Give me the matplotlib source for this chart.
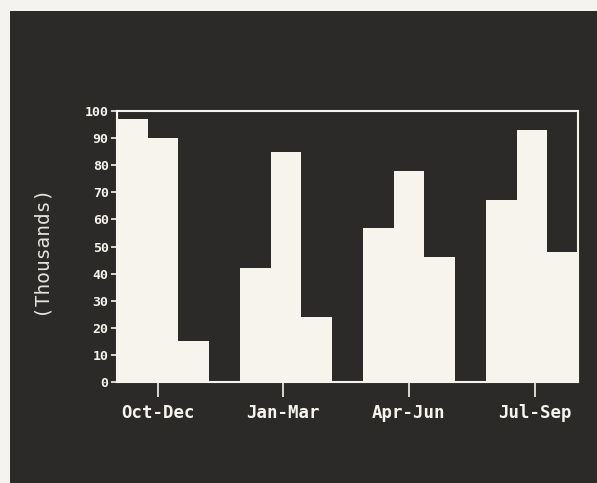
import matplotlib
matplotlib.use('Agg')
import matplotlib.pyplot as plt

# 数据
quarters = ['Oct-Dec', 'Jan-Mar', 'Apr-Jun', 'Jul-Sep']
values = [
    [97, 90, 15],
    [42, 85, 24],
    [57, 78, 46],
    [67, 93, 48],
]
y_ticks = [0, 10, 20, 30, 40, 50, 60, 70, 80, 90, 100]

bg = '#2b2a28'
fg = '#f6f4ec'

fig = plt.figure(figsize=(5.97, 4.83), dpi=100, facecolor='#f4f3ef')
# dark screen area
bgax = fig.add_axes([10 / 597, 0, 1, 1 - 11 / 483], zorder=-1)
bgax.axis('off')
bgax.add_patch(plt.Rectangle((0, 0), 1, 1, transform=bgax.transAxes, color=bg))

ax = fig.add_axes([117 / 597, 101 / 483, 461 / 597, 271 / 483])
ax.set_facecolor(bg)

for g, vals in enumerate(values):
    for i, v in enumerate(vals):
        ax.bar(g * 4 + i, v, width=1.0, align='edge', color=fg, edgecolor='none', zorder=2)

ax.set_xlim(0, 15)
ax.set_ylim(0, 100)
ax.set_yticks(y_ticks)
ax.set_yticklabels([str(t) for t in y_ticks], family='DejaVu Sans Mono',
                   fontweight='bold', fontsize=9.5, color=fg)
ax.set_xticks([1.35, 5.4, 9.5, 13.6])
ax.set_xticklabels(quarters, family='DejaVu Sans Mono', fontweight='bold',
                   fontsize=12.5, color=fg)
ax.tick_params(axis='y', colors=fg, length=4, width=1.2, pad=2)
ax.tick_params(axis='x', colors=fg, length=11, width=1.2, pad=5)

for s in ax.spines.values():
    s.set_color(fg)
    s.set_linewidth(1.5)

fig.text(40 / 597, 1 - 249 / 483, '(Thousands)', rotation=90, ha='center', va='center',
         family='DejaVu Sans Mono', fontsize=14, color='#e6e4dc')

plt.savefig('out.png', dpi=100, facecolor=fig.get_facecolor())
